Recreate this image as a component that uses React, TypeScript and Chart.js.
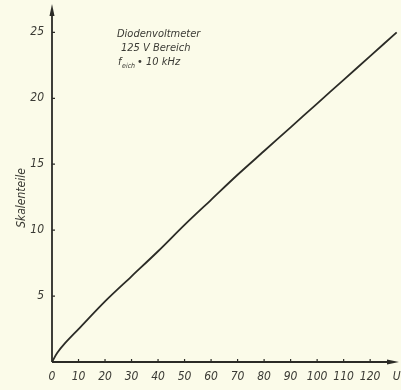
import React, { useEffect, useRef } from "react";
import { Chart, registerables } from "chart.js";

Chart.register(...registerables);

const voltage: number[] = [0, 2, 5, 10, 20, 30, 40, 50, 60, 70, 80, 90, 100, 110, 120, 130];
const skalenteile: number[] = [0, 0.7, 1.45, 2.5, 4.6, 6.5, 8.4, 10.4, 12.3, 14.2, 16.0, 17.8, 19.6, 21.4, 23.2, 25.0];
const xTickValues: number[] = [0, 10, 20, 30, 40, 50, 60, 70, 80, 90, 100, 110, 120];
const yTickValues: number[] = [5, 10, 15, 20, 25];
const titleLines: string[] = ["Diodenvoltmeter", "125 V Bereich"];
const yTitle = "Skalenteile";
const xUnit = "U";

const INK = "#2b2b26";
const TEXT = "#3a3a34";
const FONT = "'DejaVu Sans Condensed', 'Liberation Sans Narrow', 'DejaVu Sans', sans-serif";

const decoPlugin = {
  id: "deco",
  afterDraw(chart: any) {
    const ctx = chart.ctx;
    const xs = chart.scales.x;
    const ys = chart.scales.y;
    const x0 = xs.getPixelForValue(0);
    const y0 = ys.getPixelForValue(0);
    const top = chart.chartArea.top;
    const right = chart.chartArea.right;
    ctx.save();
    ctx.strokeStyle = INK;
    ctx.fillStyle = INK;
    ctx.lineWidth = 1.8;
    ctx.beginPath();
    ctx.moveTo(x0, y0);
    ctx.lineTo(x0, top + 4);
    ctx.moveTo(x0, y0);
    ctx.lineTo(right - 4, y0);
    ctx.stroke();
    ctx.beginPath();
    ctx.moveTo(x0, top - 2);
    ctx.lineTo(x0 - 2.5, top + 10);
    ctx.lineTo(x0 + 2.5, top + 10);
    ctx.closePath();
    ctx.fill();
    ctx.beginPath();
    ctx.moveTo(right + 1, y0);
    ctx.lineTo(right - 11, y0 - 2.5);
    ctx.lineTo(right - 11, y0 + 2.5);
    ctx.closePath();
    ctx.fill();
    ctx.lineWidth = 1.2;
    ctx.beginPath();
    xTickValues.forEach((v) => {
      if (v === 0) return;
      const px = xs.getPixelForValue(v);
      ctx.moveTo(px, y0);
      ctx.lineTo(px, y0 - 3);
    });
    yTickValues.forEach((v) => {
      const py = ys.getPixelForValue(v);
      ctx.moveTo(x0, py);
      ctx.lineTo(x0 + 3, py);
    });
    ctx.stroke();
    ctx.fillStyle = TEXT;
    ctx.font = `italic 12px ${FONT}`;
    ctx.textAlign = "center";
    ctx.textBaseline = "middle";
    ctx.save();
    ctx.translate(22, 198);
    ctx.rotate(-Math.PI / 2);
    ctx.fillText(yTitle, 0, 0);
    ctx.restore();
    ctx.textAlign = "left";
    ctx.textBaseline = "alphabetic";
    ctx.font = `italic 11px ${FONT}`;
    ctx.fillText(titleLines[0], 117, 37);
    ctx.fillText(titleLines[1], 121, 51);
    ctx.fillText("f", 118, 65);
    ctx.font = `italic 7px ${FONT}`;
    ctx.fillText("eich", 122, 68);
    ctx.font = `italic 11px ${FONT}`;
    ctx.fillText("\u2022 10 kHz", 137, 65);
    ctx.restore();
  },
};

export default function App() {
  const ref = useRef<HTMLCanvasElement | null>(null);
  useEffect(() => {
    if (!ref.current) return;
    const chart = new Chart(ref.current, {
      type: "scatter",
      data: {
        datasets: [
          {
            data: voltage.map((u, i) => ({ x: u, y: skalenteile[i] })),
            showLine: true,
            borderColor: INK,
            borderWidth: 1.8,
            pointRadius: 0,
            tension: 0.3,
          },
        ],
      },
      options: {
        animation: false,
        responsive: false,
        events: [],
        layout: { padding: { top: 6, right: 3, left: 0, bottom: 0 } },
        plugins: { legend: { display: false }, tooltip: { enabled: false } },
        scales: {
          x: {
            type: "linear",
            min: 0,
            max: 130.5,
            afterFit: (s: any) => {
              s.height = 28;
              s.paddingLeft = 0;
              s.paddingRight = 0;
              s.paddingTop = 0;
              s.paddingBottom = 0;
            },
            afterBuildTicks: (s: any) => {
              s.ticks = [...xTickValues, 130].map((v) => ({ value: v }));
            },
            border: { display: false },
            grid: { display: false, drawTicks: false },
            ticks: {
              padding: 8,
              color: TEXT,
              font: { family: FONT, size: 12, style: "italic" },
              maxRotation: 0,
              autoSkip: false,
              callback: (v: any) => (v === 130 ? xUnit : String(v)),
            },
          },
          y: {
            type: "linear",
            min: 0,
            max: 27,
            afterFit: (s: any) => {
              s.width = 52;
              s.paddingLeft = 0;
              s.paddingRight = 0;
              s.paddingTop = 0;
              s.paddingBottom = 0;
            },
            afterBuildTicks: (s: any) => {
              s.ticks = yTickValues.map((v) => ({ value: v }));
            },
            border: { display: false },
            grid: { display: false, drawTicks: false },
            ticks: {
              padding: 8,
              color: TEXT,
              font: { family: FONT, size: 12, style: "italic" },
            },
          },
        },
      },
      plugins: [decoPlugin],
    } as any);
    return () => chart.destroy();
  }, []);
  return (
    <div style={{ position: "fixed", left: 0, top: 0, width: 401, height: 390, background: "#fbfbe9" }}>
      <canvas ref={ref} width={401} height={390} style={{ display: "block" }} />
    </div>
  );
}
